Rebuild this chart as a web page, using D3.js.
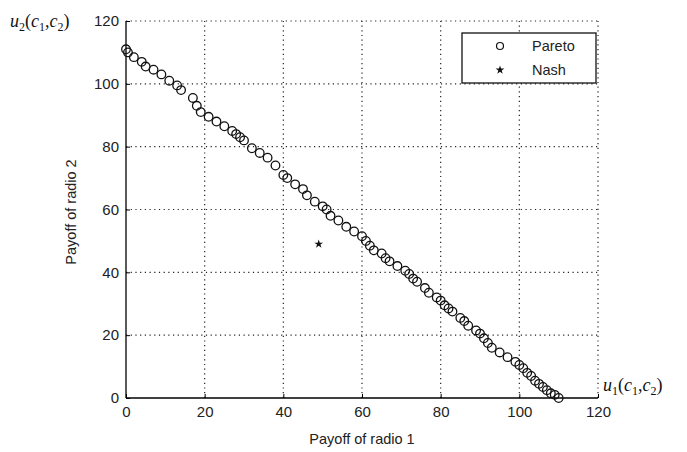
<!DOCTYPE html>
<html>
<head>
<meta charset="utf-8">
<script src="https://cdn.jsdelivr.net/npm/d3@7"></script>
<style>
  body { margin: 0; background: #fff; }
  svg { display: block; }
</style>
</head>
<body>
<div id="chart"></div>
<script>
const paretoX = [0, 0.5, 2, 4, 5, 7, 9, 11, 13, 14, 17, 18, 19, 21, 23, 25, 27, 28, 29, 30,
    32, 34, 36, 38, 40, 41, 43, 45, 46, 48, 50, 51, 52, 54, 56, 58, 60, 61, 62, 63,
    65, 66, 67, 69, 71, 72, 73, 74, 76, 77, 79, 80, 81, 82, 83, 85, 86, 87, 89, 90,
    91, 92, 93, 95, 97, 99, 100, 101, 102, 103, 104, 105, 106, 107, 108, 109, 110];
const paretoY = [111, 110, 108.5, 107, 105.5, 104.5, 103, 101, 99.5, 98, 95.5, 93, 91, 89.5, 88, 86.5, 85, 84, 83, 82,
    79.5, 78, 76.5, 74, 71, 70, 68, 66.5, 64.5, 62.5, 61, 60, 58, 56.5, 54.5, 53, 51.5, 50, 48.5, 47,
    46, 44.5, 43.5, 42, 40.5, 39.5, 38, 37, 35, 33.5, 32, 31, 29.5, 28.5, 27.5, 25.5, 24.5, 23, 21.5, 20.5,
    19, 17.5, 16, 14.5, 13, 11.5, 10.5, 9.5, 8, 7, 5.5, 4.5, 3.5, 2.5, 1.5, 1, 0];
const nashX = [49];
const nashY = [49];
const ticks = [0, 20, 40, 60, 80, 100, 120];
const seriesNames = ['Pareto', 'Nash'];

const width = 687;
const height = 452;
const margin = { top: 21, right: 89, bottom: 54, left: 126 };

const svg = d3.select('#chart')
    .append('svg')
    .attr('width', width)
    .attr('height', height);

const x = d3.scaleLinear()
    .domain([0, 120])
    .range([margin.left, width - margin.right]);

const y = d3.scaleLinear()
    .domain([0, 120])
    .range([height - margin.bottom, margin.top]);

// dotted grid
svg.append('g')
    .selectAll('line')
    .data(ticks.slice(1))
    .join('line')
    .attr('x1', d => x(d)).attr('x2', d => x(d))
    .attr('y1', y(0)).attr('y2', y(120))
    .attr('stroke', '#222')
    .attr('stroke-width', 1.2)
    .attr('stroke-dasharray', '1.2,3.5');

svg.append('g')
    .selectAll('line')
    .data(ticks.slice(1))
    .join('line')
    .attr('y1', d => y(d)).attr('y2', d => y(d))
    .attr('x1', x(0)).attr('x2', x(120))
    .attr('stroke', '#222')
    .attr('stroke-width', 1.2)
    .attr('stroke-dasharray', '1.2,3.5');

function xAxis(g) {
    g.attr('transform', `translate(0,${y(0)})`)
        .call(d3.axisBottom(x).tickValues(ticks).tickSize(-4).tickPadding(8))
        .call(g => g.select('.domain').attr('d', `M${x(0)},0H${x(120)}`).attr('stroke-width', 1.3))
        .attr('font-family', 'Arial, "Liberation Sans", sans-serif')
        .attr('font-size', '15px');
}

function yAxis(g) {
    g.attr('transform', `translate(${x(0)},0)`)
        .call(d3.axisLeft(y).tickValues(ticks).tickSize(-4).tickPadding(7))
        .call(g => g.select('.domain').attr('d', `M0,${y(0)}V${y(120)}`).attr('stroke-width', 1.3))
        .attr('font-family', 'Arial, "Liberation Sans", sans-serif')
        .attr('font-size', '15px');
}

svg.append('g').call(xAxis);
svg.append('g').call(yAxis);
svg.selectAll('.tick text').attr('fill', '#222');

// Pareto points
const pareto = paretoX.map((d, i) => ({ x: d, y: paretoY[i] }));
svg.append('g')
    .selectAll('circle')
    .data(pareto)
    .join('circle')
    .attr('cx', d => x(d.x))
    .attr('cy', d => y(d.y))
    .attr('r', 4.3)
    .attr('fill', 'none')
    .attr('stroke', '#111')
    .attr('stroke-width', 1.3);

// Nash point
const star = d3.symbol().type(d3.symbolStar).size(24);
svg.append('g')
    .selectAll('path')
    .data(nashX.map((d, i) => ({ x: d, y: nashY[i] })))
    .join('path')
    .attr('d', star)
    .attr('transform', d => `translate(${x(d.x)},${y(d.y)})`)
    .attr('fill', '#111');

// legend
const legend = svg.append('g').attr('transform', 'translate(462,33)');
legend.append('rect')
    .attr('width', 134).attr('height', 50)
    .attr('fill', '#fff').attr('stroke', '#111').attr('stroke-width', 1.3);
legend.append('circle').attr('cx', 38).attr('cy', 13).attr('r', 3.5)
    .attr('fill', 'none').attr('stroke', '#111').attr('stroke-width', 1.2);
legend.append('path').attr('d', star).attr('transform', 'translate(38,37)').attr('fill', '#111');
legend.selectAll('text.lg')
    .data(seriesNames)
    .join('text')
    .attr('class', 'lg')
    .attr('x', 70)
    .attr('y', (d, i) => 13 + i * 24)
    .attr('dy', '0.35em')
    .attr('font-family', 'Arial, "Liberation Sans", sans-serif')
    .attr('font-size', '14.5px')
    .attr('fill', '#222')
    .text(d => d);

// axis titles
svg.append('text')
    .attr('x', 362).attr('y', 444)
    .attr('text-anchor', 'middle')
    .attr('font-family', 'Arial, "Liberation Sans", sans-serif')
    .attr('font-size', '14.5px')
    .attr('fill', '#222')
    .text('Payoff of radio 1');

svg.append('text')
    .attr('transform', 'translate(76,212) rotate(-90)')
    .attr('text-anchor', 'middle')
    .attr('font-family', 'Arial, "Liberation Sans", sans-serif')
    .attr('font-size', '14.5px')
    .attr('fill', '#222')
    .text('Payoff of radio 2');

// math labels u2(c1,c2) and u1(c1,c2)
function mathLabel(px, py, idx) {
    const t = svg.append('text')
        .attr('x', px).attr('y', py)
        .attr('font-family', '"Liberation Serif", "DejaVu Serif", serif')
        .attr('font-size', '18px')
        .attr('fill', '#111');
    const parts = [
        ['u', 'italic', 0], [idx, 'normal', 1], ['(', 'normal', 0], ['c', 'italic', 0], ['1', 'normal', 1],
        [',', 'normal', 0], ['c', 'italic', 0], ['2', 'normal', 1], [')', 'normal', 0]
    ];
    let shift = 0;
    parts.forEach(([s, st, sub]) => {
        const target = sub ? 4 : 0;
        t.append('tspan')
            .attr('font-style', st)
            .attr('font-size', sub ? '12px' : '18px')
            .attr('dy', target - shift)
            .text(s);
        shift = target;
    });
}
mathLabel(10, 27, '2');
mathLabel(603, 391, '1');
</script>
</body>
</html>
